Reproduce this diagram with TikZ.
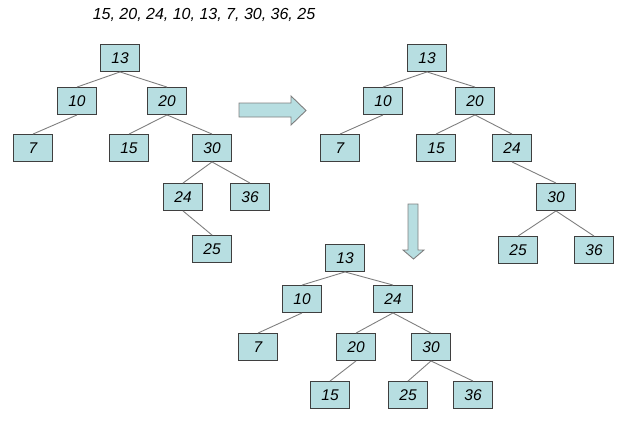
\documentclass[tikz,border=0pt]{standalone}
\usepackage{fontspec}
\setmainfont{Liberation Sans}
\definecolor{boxfill}{HTML}{B7DEE1}
\definecolor{boxline}{HTML}{3F3F3F}
\definecolor{edgecol}{HTML}{7F7F7F}
\tikzset{
  tnode/.style={draw=boxline, fill=boxfill, line width=0.9pt, minimum width=39pt, minimum height=27pt, inner sep=0pt, font=\fontsize{15.5pt}{17pt}\selectfont\itshape},
  tedge/.style={draw=edgecol, line width=0.9pt},
  bigarrow/.style={draw=edgecol, fill=boxfill, line width=0.9pt, line join=miter}
}
\begin{document}
\begin{tikzpicture}[x=1pt,y=-1pt]
\useasboundingbox (0,0) rectangle (617,420);
\node[font=\fontsize{16pt}{18pt}\selectfont\itshape] (seq) at (204,15) {15, 20, 24, 10, 13, 7, 30, 36, 25};
% tree 1
\node[tnode] (a13) at (120,58) {13};
\node[tnode] (a10) at (77,101) {10};
\node[tnode] (a20) at (167,101) {20};
\node[tnode] (a7) at (33,148) {7};
\node[tnode] (a15) at (129,148) {15};
\node[tnode] (a30) at (212,148) {30};
\node[tnode] (a24) at (183,197) {24};
\node[tnode] (a36) at (250,197) {36};
\node[tnode] (a25) at (212,249) {25};
\foreach \p/\c in {a13/a10,a13/a20,a10/a7,a20/a15,a20/a30,a30/a24,a30/a36,a24/a25}
  \draw[tedge] (\p.south) -- (\c.north);
% tree 2
\node[tnode] (b13) at (427,58) {13};
\node[tnode] (b10) at (383,101) {10};
\node[tnode] (b20) at (475,101) {20};
\node[tnode] (b7) at (340,148) {7};
\node[tnode] (b15) at (436,148) {15};
\node[tnode] (b24) at (512,148) {24};
\node[tnode] (b30) at (556,197) {30};
\node[tnode] (b25) at (518,250) {25};
\node[tnode] (b36) at (594,250) {36};
\foreach \p/\c in {b13/b10,b13/b20,b10/b7,b20/b15,b20/b24,b24/b30,b30/b25,b30/b36}
  \draw[tedge] (\p.south) -- (\c.north);
% tree 3
\node[tnode] (c13) at (345,258) {13};
\node[tnode] (c10) at (302,299) {10};
\node[tnode] (c24) at (393,299) {24};
\node[tnode] (c7) at (258,347) {7};
\node[tnode] (c20) at (356,347) {20};
\node[tnode] (c30) at (431,347) {30};
\node[tnode] (c15) at (330,395) {15};
\node[tnode] (c25) at (408,395) {25};
\node[tnode] (c36) at (473,395) {36};
\foreach \p/\c in {c13/c10,c13/c24,c10/c7,c24/c20,c24/c30,c20/c15,c30/c25,c30/c36}
  \draw[tedge] (\p.south) -- (\c.north);
% arrows
\draw[bigarrow] (239,103) -- (291,103) -- (291,96) -- (306,110.5) -- (291,125) -- (291,117) -- (239,117) -- cycle;
\draw[bigarrow] (408,204) -- (418,204) -- (418,250) -- (424,250) -- (413.5,259) -- (403,250) -- (408,250) -- cycle;
\end{tikzpicture}
\end{document}
